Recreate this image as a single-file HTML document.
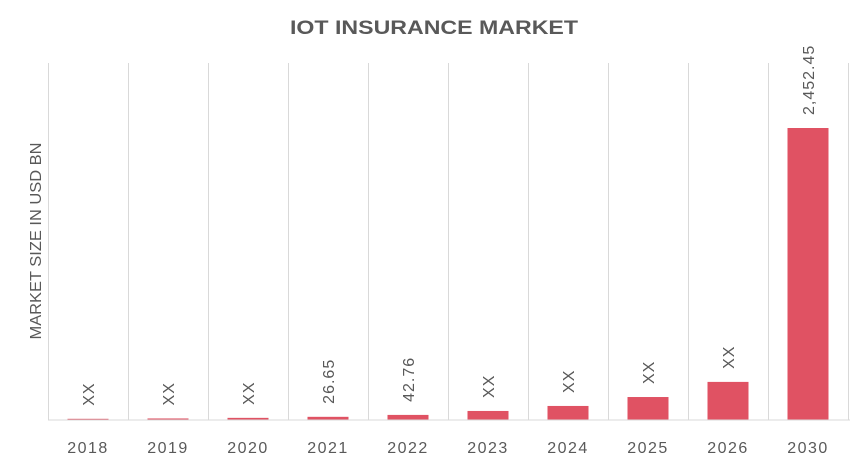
<!DOCTYPE html>
<html><head><meta charset="utf-8"><style>
html,body{margin:0;padding:0;background:#fff;}
svg{display:block;font-family:"Liberation Sans",sans-serif;}
</style></head><body>
<svg id="chart" width="865" height="463" viewBox="0 0 865 463">
<text x="434" y="34" text-anchor="middle" font-size="19" font-weight="bold" fill="#595959" textLength="288" lengthAdjust="spacingAndGlyphs">IOT INSURANCE MARKET</text>
<text transform="translate(41,241) rotate(-90)" text-anchor="middle" font-size="16" fill="#595959" textLength="197" lengthAdjust="spacingAndGlyphs">MARKET SIZE IN USD BN</text>
<g id="grid"></g><g id="bars"></g><g id="labels"></g><g id="xlabels"></g>
<line x1="48" y1="420" x2="850" y2="420" stroke="#d9d9d9" stroke-width="1"/>
</svg>
<script>
const categories = ["2018","2019","2020","2021","2022","2023","2024","2025","2026","2030"];
const values = [10, 13, 18, 26.65, 42.76, 76, 118, 193, 320, 2452.45];
const valueLabels = ["XX","XX","XX","26.65","42.76","XX","XX","XX","XX","2,452.45"];
const NS="http://www.w3.org/2000/svg";
const x0=48, band=80, base=420, maxV=2452.45, maxH=292, barW=41;
const yScale=v=>base - v/maxV*maxH;
const xScale=i=>x0+i*band;
function mk(t,a){const e=document.createElementNS(NS,t);for(const k in a)e.setAttribute(k,a[k]);return e;}
const grid=document.getElementById('grid'),bars=document.getElementById('bars'),labels=document.getElementById('labels'),xl=document.getElementById('xlabels');
for(let i=0;i<=categories.length;i++){
  const l=mk('line',{x1:xScale(i)+0.5,x2:xScale(i)+0.5,y1:63,y2:420,stroke:'#d9d9d9','stroke-width':1});
  
  
  grid.appendChild(l);
}
categories.forEach((c,i)=>{
  const cx=xScale(i)+band/2, top=yScale(values[i]);
  const r=mk('rect',{x:cx-barW/2,y:top,width:barW,height:base-top,fill:'#e05263'});
  
  
  bars.appendChild(r);
  const t=mk('text',{transform:`translate(${cx+6},${top-13}) rotate(-90)`,'font-size':16,fill:'#595959','letter-spacing':'1'});
  t.textContent=valueLabels[i];
  
  
  labels.appendChild(t);
  const x=mk('text',{x:cx,y:453,'text-anchor':'middle','font-size':16,fill:'#595959','letter-spacing':'1.5'});
  x.textContent=c;
  
  
  xl.appendChild(x);
});
</script>
</body></html>
